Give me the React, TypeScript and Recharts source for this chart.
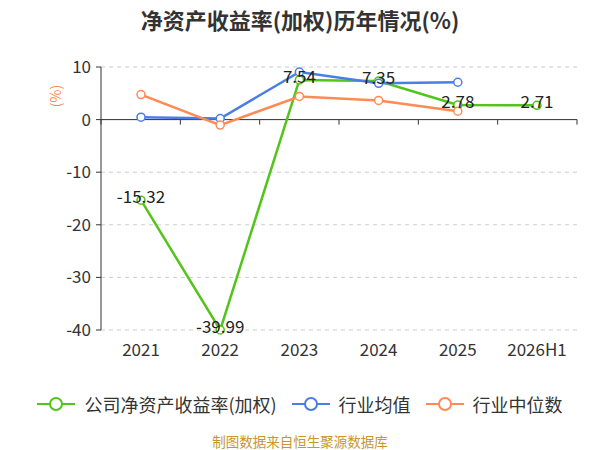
import React from 'react';
import { LineChart, Line, XAxis, YAxis, CartesianGrid, ReferenceLine, LabelList } from 'recharts';

const years = ['2021', '2022', '2023', '2024', '2025', '2026H1'];
const companyRoe = [-15.32, -39.99, 7.54, 7.35, 2.78, 2.71];
const industryMean = [0.46, 0.21, 9.05, 6.9, 7.1, null];
const industryMedian = [4.75, -1.05, 4.4, 3.65, 1.6, null];
const yTicks = [10, 0, -10, -20, -30, -40];

const GREEN = '#52c41a';
const BLUE = '#4a7ee6';
const ORANGE = '#ff8a55';
const FONT = '"Noto Sans CJK SC", "Noto Sans", sans-serif';

const data = years.map((y, i) => ({
  year: y,
  company: companyRoe[i],
  mean: industryMean[i],
  median: industryMedian[i],
}));

const legendItems = [
  { name: '公司净资产收益率(加权)', color: GREEN },
  { name: '行业均值', color: BLUE },
  { name: '行业中位数', color: ORANGE },
];

// zero axis line with tick marks at category boundaries
function ZeroAxis(props: any) {
  const { x1, y1, x2 } = props;
  if (x1 == null || y1 == null || x2 == null) return null;
  const step = (x2 - x1) / years.length;
  const ticks = [];
  for (let i = 0; i <= years.length; i++) {
    const x = x1 + step * i;
    ticks.push(<line key={i} x1={x} y1={y1} x2={x} y2={y1 + 5} stroke="#333" strokeWidth={1} />);
  }
  return (
    <g>
      <line x1={x1} y1={y1} x2={x2} y2={y1} stroke="#333" strokeWidth={1} />
      {ticks}
    </g>
  );
}

function ValueLabel(props: any) {
  const { x, y, value } = props;
  if (value == null) return null;
  return (
    <text x={x} y={y - 2} textAnchor="middle" dominantBaseline="middle" fontSize={17} fill="#222" fontFamily={FONT}>
      {value.toFixed(2)}
    </text>
  );
}

function LegendIcon({ color }: { color: string }) {
  return (
    <svg width={38} height={16} style={{ marginRight: 9 }}>
      <line x1={0} y1={8} x2={38} y2={8} stroke={color} strokeWidth={2} />
      <circle cx={19} cy={8} r={6} fill="#fff" stroke={color} strokeWidth={2} />
    </svg>
  );
}

export default function App() {
  return (
    <div style={{ position: 'absolute', left: 0, top: 0, width: 600, height: 450, background: '#fff', fontFamily: FONT }}>
      <div style={{ position: 'absolute', top: 3, width: 600, textAlign: 'center', fontSize: 22, fontWeight: 'bold', color: '#333' }}>
        净资产收益率(加权)历年情况(%)
      </div>
      <div
        style={{
          position: 'absolute', left: 44, top: 86, color: ORANGE, fontSize: 14,
          transform: 'rotate(-90deg)', transformOrigin: 'center',
        }}
      >
        (%)
      </div>
      <LineChart width={600} height={450} data={data} margin={{ top: 67, right: 23, left: 41, bottom: 90 }}>
        <CartesianGrid vertical={false} stroke="#ccc" strokeDasharray="4 4" />
        <XAxis
          dataKey="year"
          axisLine={false}
          tickLine={false}
          height={30}
          padding={{ left: 40, right: 40 }}
          tick={{ fill: '#333', fontSize: 17, fontFamily: FONT, dy: 6 }}
          interval={0}
        />
        <YAxis
          domain={[-40, 10]}
          ticks={yTicks}
          width={60}
          axisLine={{ stroke: '#333' }}
          tickLine={{ stroke: '#333' }}
          tickSize={5}
          tick={{ fill: '#333', fontSize: 17, fontFamily: FONT, dx: -3 }}
        />
        <ReferenceLine y={0} shape={ZeroAxis} />
        <Line
          dataKey="company"
          stroke={GREEN}
          strokeWidth={2.5}
          dot={{ r: 4, fill: '#fff', stroke: GREEN, strokeWidth: 1.5 }}
          isAnimationActive={false}
        />
        <Line
          dataKey="mean"
          stroke={BLUE}
          strokeWidth={2.5}
          dot={{ r: 4, fill: '#fff', stroke: BLUE, strokeWidth: 1.5 }}
          isAnimationActive={false}
        />
        <Line
          dataKey="median"
          stroke={ORANGE}
          strokeWidth={2.5}
          dot={{ r: 4, fill: '#fff', stroke: ORANGE, strokeWidth: 1.5 }}
          isAnimationActive={false}
        />
        <Line dataKey="company" stroke="none" dot={false} activeDot={false} isAnimationActive={false} legendType="none">
          <LabelList dataKey="company" content={ValueLabel} />
        </Line>
      </LineChart>
      <div
        style={{
          position: 'absolute', top: 391, left: 0, width: 600, display: 'flex', justifyContent: 'center',
          alignItems: 'center', fontSize: 18, color: '#333', gap: 15,
        }}
      >
        {legendItems.map((it) => (
          <div key={it.name} style={{ display: 'flex', alignItems: 'center' }}>
            <LegendIcon color={it.color} />
            <span>{it.name}</span>
          </div>
        ))}
      </div>
      <div style={{ position: 'absolute', top: 431, width: 600, textAlign: 'center', fontSize: 13.5, color: '#c8962a' }}>
        制图数据来自恒生聚源数据库
      </div>
    </div>
  );
}
